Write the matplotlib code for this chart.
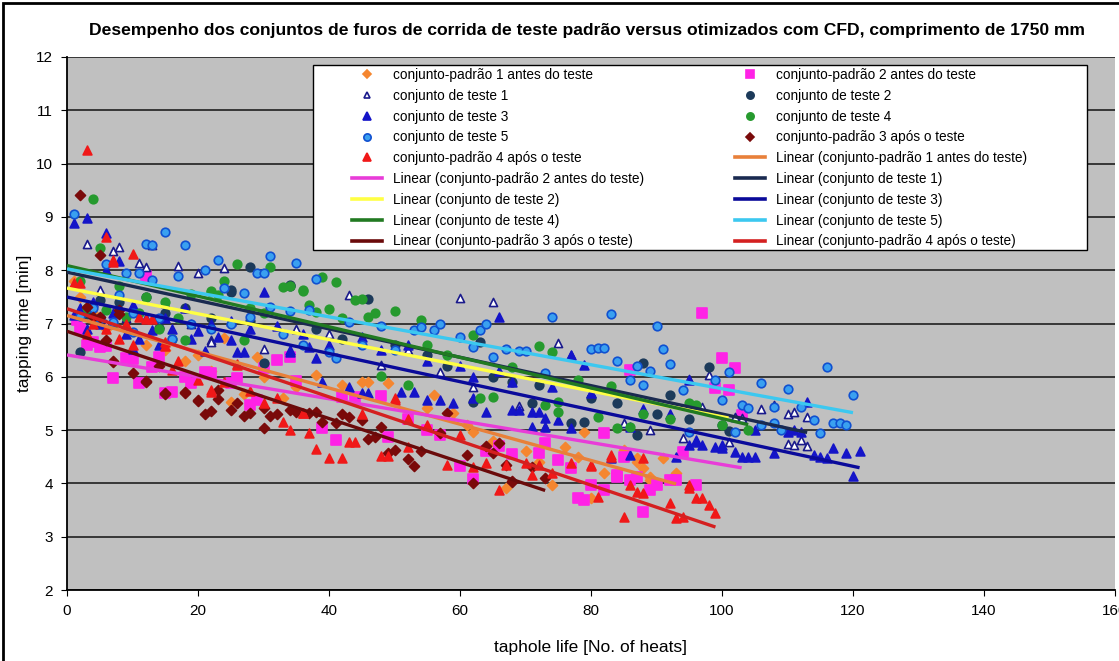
import numpy as np
import matplotlib
matplotlib.use('Agg')
import matplotlib.pyplot as plt
from matplotlib.lines import Line2D
from matplotlib.patches import Rectangle

plt.rcParams['font.family'] = ['Liberation Sans', 'DejaVu Sans']

# conjunto-padrao 1 antes do teste
p1_x = [1, 2, 4, 6, 9, 12, 15, 18, 20, 22, 24, 25, 27, 29, 30, 33, 35, 38, 42, 45, 46, 49,
        55, 56, 59, 61, 62, 65, 67, 70, 72, 74, 76, 78, 79, 80, 82, 85, 87, 87, 88, 89, 89, 91, 93]
p1_y = [7.8, 7.5, 7.2, 6.9, 6.9, 6.6, 6.5, 6.3, 6.4, 6.1, 6.73, 5.53, 5.68, 6.37, 6.0, 5.6, 5.8, 6.03, 5.85, 5.9, 5.9, 5.88,
        5.41, 5.66, 5.32, 5.1, 4.97, 4.8, 3.91, 4.6, 4.4, 3.97, 4.68, 4.5, 4.97, 3.73, 4.19, 4.63, 4.4, 4.48, 4.29, 4.12, 4.06, 4.48, 4.2]

# conjunto-padrao 2 antes do teste
p2_x = [1.5, 2, 3, 4, 5, 6, 7, 9, 10, 11, 12, 13, 14, 15, 16, 18, 19, 21, 22, 25, 26, 28, 29, 30, 32, 34, 35,
        39, 41, 42, 44, 48, 49, 52, 55, 57, 60, 62, 64, 66, 68, 72, 73, 75, 77, 78, 79, 80, 82, 82, 84, 84, 85,
        86, 86, 87, 88, 89, 90, 92, 93, 94, 96, 97, 99, 100, 101, 102, 103]
p2_y = [7.06, 6.9, 6.6, 6.65, 6.56, 6.58, 5.98, 6.35, 6.33, 5.88, 7.9, 6.18, 6.37, 5.7, 5.72, 6.0, 5.88, 6.09, 6.07, 5.88, 5.98, 5.47, 5.56, 6.17, 6.32, 6.37, 5.92,
        5.04, 4.81, 5.62, 5.62, 5.64, 4.87, 5.2, 5.0, 4.9, 4.33, 4.08, 4.6, 4.7, 4.55, 4.57, 4.76, 4.44, 4.29, 3.73, 3.69, 3.97, 3.88, 4.94, 4.12, 4.16, 4.5,
        6.13, 4.06, 4.12, 3.46, 3.88, 3.97, 4.06, 4.06, 4.59, 3.97, 7.2, 5.79, 6.35, 5.75, 6.16, 5.28]

# conjunto de teste 1
t1_x = [2, 3, 5, 6, 7, 8, 9, 11, 12, 13, 14, 15, 17, 19, 20, 22, 22, 24, 30, 35, 40, 43, 48, 52, 57, 60, 62, 65, 69, 73,
        75, 77, 80, 85, 89, 94, 95, 97, 98, 101, 102, 103, 106, 108, 110, 110, 111, 111, 112, 113, 113]
t1_y = [7.2, 8.49, 7.63, 7.0, 8.36, 8.43, 7.1, 8.13, 8.06, 8.47, 7.0, 7.38, 8.08, 7.0, 7.95, 6.69, 6.65, 8.04, 6.52, 6.9, 6.8, 7.53, 6.22, 6.5, 6.09, 7.47, 5.81, 7.4, 5.45, 5.06,
        6.63, 6.41, 5.7, 5.13, 5.0, 4.85, 5.96, 5.43, 6.03, 4.78, 5.25, 5.23, 5.4, 5.47, 5.3, 4.74, 5.34, 4.72, 4.81, 5.25, 4.7]

# conjunto de teste 2
t2_x = [2, 3, 5, 5, 8, 12, 14, 15, 18, 22, 25, 25, 28, 28, 30, 34, 34, 38, 42, 46, 50, 55, 58, 62, 63, 65, 68,
        71, 72, 77, 79, 80, 84, 87, 88, 90, 92, 95, 98, 100, 101]
t2_y = [6.47, 7.18, 7.1, 7.45, 7.4, 7.5, 6.92, 7.2, 7.3, 7.1, 7.63, 7.59, 8.06, 7.05, 6.26, 7.7, 7.72, 6.9, 6.7, 7.46, 6.6, 6.4, 6.2, 5.53, 6.65, 6.0, 5.9,
        5.51, 5.85, 5.13, 5.15, 5.6, 5.5, 4.91, 6.26, 5.3, 5.66, 5.2, 6.18, 5.1, 4.98]

# conjunto de teste 3
t3_x = [1, 1, 2, 3, 3, 4, 5, 6, 6, 7, 8, 9, 10, 10, 11, 12, 13, 14, 15, 16, 18, 19, 20, 21, 22, 23, 25, 25, 26, 27, 28, 30, 32, 34, 34,
        36, 37, 38, 39, 40, 43, 45, 45, 46, 48, 51, 52, 53, 55, 55, 57, 59, 60, 62, 62, 64, 66, 66, 68, 68, 69,
        71, 71, 72, 73, 73, 74, 75, 77, 77, 79, 80, 83, 86, 86, 88, 92, 93, 95, 95, 96, 96, 97, 99, 100, 100,
        102, 103, 104, 105, 105, 108, 110, 111, 112, 113, 114, 115, 116, 117, 119, 120, 121]
t3_y = [8.88, 7.16, 7.3, 8.97, 6.9, 7.4, 7.0, 8.7, 8.0, 7.2, 8.17, 6.8, 6.52, 7.35, 6.7, 7.1, 6.88, 6.6, 7.1, 6.9, 7.3, 6.7, 6.86, 6.48, 7.0, 6.75, 6.69, 7.05, 6.47, 6.47, 6.9, 7.59, 6.95, 6.47, 6.5,
        6.8, 6.56, 6.35, 5.9, 6.6, 5.81, 6.75, 5.7, 5.7, 6.5, 5.72, 6.6, 5.72, 5.56, 6.3, 5.56, 5.5, 6.2, 5.6, 6.0, 5.34, 7.12, 6.1, 5.38, 5.9, 5.38,
        5.34, 5.06, 5.34, 5.06, 5.22, 5.8, 5.19, 6.41, 5.04, 6.22, 5.7, 4.48, 5.06, 4.53, 5.4, 5.3, 4.5, 4.72, 5.94, 4.78, 4.81, 4.72, 4.68, 4.72, 4.66,
        4.59, 4.5, 4.5, 4.5, 5.0, 4.57, 4.97, 5.0, 4.97, 5.53, 4.53, 4.5, 4.48, 4.66, 4.57, 4.14, 4.61]

# conjunto de teste 4
t4_x = [2, 3, 4, 5, 6, 7, 8, 9, 11, 12, 14, 15, 16, 17, 18, 19, 22, 22, 23, 24, 26, 27, 28, 30, 31, 33, 34, 36, 36, 37, 38, 39,
        40, 41, 42, 44, 45, 46, 47, 48, 50, 52, 54, 55, 58, 62, 63, 65, 68, 72, 73, 74, 75, 75, 78, 81, 83, 84,
        86, 88, 92, 95, 96, 100, 104]
t4_y = [7.8, 7.3, 9.34, 8.41, 7.25, 7.0, 7.7, 7.12, 7.2, 7.5, 6.9, 7.4, 6.71, 7.1, 6.69, 7.55, 7.61, 7.6, 7.53, 7.8, 8.12, 6.69, 7.3, 7.2, 8.06, 7.69, 7.7, 7.63, 7.61, 7.35, 7.22, 7.87,
        7.27, 7.78, 7.1, 7.44, 7.46, 7.12, 7.2, 6.01, 7.23, 5.85, 7.07, 6.6, 6.4, 6.78, 5.6, 5.62, 6.18, 6.58, 5.47, 6.47, 5.53, 5.34, 5.94, 5.25, 5.83, 5.04,
        5.06, 5.3, 5.2, 5.51, 5.47, 5.1, 5.0]

# conjunto de teste 5
t5_x = [1, 2, 4, 5, 6, 7, 8, 9, 10, 10, 11, 12, 13, 13, 14, 15, 16, 17, 18, 19, 21, 22, 23, 24, 25, 27, 28, 29, 30, 31, 31, 33, 34, 35, 36, 37,
        38, 40, 41, 43, 45, 48, 50, 53, 54, 56, 57, 60, 62, 63, 64, 65, 67, 69, 70, 73, 74, 80, 81, 82, 83, 84, 86, 87,
        88, 89, 90, 91, 92, 94, 95, 99, 100, 101, 102, 103, 104, 106, 106, 108, 108, 109, 110, 112, 114, 115, 116,
        117, 118, 119, 120]
t5_y = [9.05, 7.15, 7.3, 7.1, 8.12, 7.03, 7.53, 7.95, 6.84, 7.2, 7.95, 8.5, 8.47, 7.82, 7.1, 8.72, 6.71, 7.9, 8.47, 7.0, 8.0, 6.9, 8.2, 7.66, 7.0, 7.57, 7.12, 7.95, 7.95, 8.27, 7.31, 6.8, 7.23, 8.14, 6.6, 7.25,
        7.83, 6.47, 6.35, 7.03, 6.6, 6.95, 6.5, 6.88, 6.93, 6.88, 6.99, 6.75, 6.56, 6.88, 6.99, 6.37, 6.52, 6.48, 6.48, 6.07, 7.12, 6.52, 6.54, 6.54, 7.18, 6.3, 5.94, 6.2,
        5.85, 6.1, 6.95, 6.52, 6.24, 5.75, 4.97, 5.94, 5.56, 6.09, 4.97, 5.47, 5.41, 5.88, 5.1, 5.13, 5.43, 5.0, 5.77, 5.43, 5.19, 4.95, 6.18,
        5.13, 5.13, 5.1, 5.66]

# conjunto-padrao 3 apos o teste
p3_x = [2, 3, 4, 5, 5, 6, 7, 7, 8, 8, 10, 12, 12, 14, 15, 15, 18, 18, 20, 20, 21, 22, 23, 23, 25, 26, 27, 28,
        30, 30, 31, 32, 34, 35, 37, 38, 39, 41, 42, 43, 45, 46, 47, 48, 49, 50, 52, 53, 54, 57, 58, 61, 62, 64, 65,
        66, 67, 68, 68, 71, 73]
p3_y = [9.41, 7.31, 7.12, 8.28, 7.12, 6.69, 6.3, 6.28, 7.18, 7.25, 6.07, 5.92, 5.9, 6.2, 5.68, 5.7, 5.7, 5.71, 5.55, 5.56, 5.3, 5.36, 5.58, 5.75, 5.38, 5.5, 5.26, 5.32,
        5.41, 5.04, 5.26, 5.3, 5.38, 5.34, 5.32, 5.34, 5.15, 5.13, 5.3, 5.25, 5.19, 4.83, 4.87, 5.06, 4.57, 4.63, 4.46, 4.33, 4.61, 4.95, 5.32, 4.53, 4.01, 4.7, 4.57,
        4.76, 4.35, 4.04, 4.03, 4.3, 4.1]

# conjunto-padrao 4 apos o teste
p4_x = [1, 2, 3, 3, 4, 6, 6, 7, 7, 8, 9, 10, 10, 11, 12, 13, 15, 15, 16, 17, 20, 22, 22, 24, 26, 26, 28, 30, 32, 33, 34, 36, 36, 37, 38,
        40, 42, 43, 44, 45, 48, 49, 50, 50, 52, 52, 55, 58, 60, 62, 64, 66, 67, 70, 71, 72, 74, 77, 80, 80, 81,
        83, 83, 85, 86, 87, 88, 88, 92, 93, 94, 95, 95, 96, 97, 98, 99]
p4_y = [7.76, 7.76, 10.25, 6.8, 7.0, 8.62, 6.9, 8.15, 8.19, 6.7, 7.0, 8.3, 6.6, 7.12, 7.08, 7.08, 6.65, 6.58, 6.13, 6.3, 5.94, 5.75, 5.71, 5.9, 6.24, 6.22, 5.73, 5.51, 5.6, 5.15, 5.0, 5.32, 5.32, 4.95, 4.64,
        4.47, 4.47, 4.78, 4.78, 5.3, 4.51, 4.51, 5.6, 5.56, 5.2, 4.68, 5.1, 4.35, 4.9, 4.31, 4.38, 3.88, 4.35, 4.38, 4.16, 4.35, 4.2, 4.38, 4.35, 4.33, 3.75,
        4.5, 4.53, 3.37, 3.97, 3.84, 3.82, 4.47, 3.63, 3.35, 3.37, 3.97, 3.91, 3.73, 3.73, 3.6, 3.44]

names = ['conjunto-padrão 1 antes do teste', 'conjunto-padrão 2 antes do teste',
         'conjunto de teste 1', 'conjunto de teste 2', 'conjunto de teste 3',
         'conjunto de teste 4', 'conjunto de teste 5',
         'conjunto-padrão 3 após o teste', 'conjunto-padrão 4 após o teste']
xs = [p1_x, p2_x, t1_x, t2_x, t3_x, t4_x, t5_x, p3_x, p4_x]
ys = [p1_y, p2_y, t1_y, t2_y, t3_y, t4_y, t5_y, p3_y, p4_y]

# marker, size, face, edge
styles = [
    ('D', 26, '#F5862F', '#F5862F'),
    ('s', 48, '#FF22E6', '#FF22E6'),
    ('^', 34, 'white', '#1A1A8C'),
    ('o', 38, '#1C3A5A', '#1C3A5A'),
    ('^', 40, '#1414C8', '#1414C8'),
    ('o', 38, '#269A2E', '#269A2E'),
    ('o', 38, '#3AA0F0', '#1050D0'),
    ('D', 26, '#7A0A0A', '#7A0A0A'),
    ('^', 40, '#F01818', '#F01818'),
]
line_colors = ['#E8803A', '#E83CD8', '#1A2A50', '#FFFF44', '#0A0A9A',
               '#217A21', '#3CC8F0', '#6A0A0A', '#D42020']

fig = plt.figure(figsize=(11.19, 6.61), dpi=100)
ax = fig.add_axes([67 / 1119, 1 - 590 / 661, 1048 / 1119, 533 / 661])
ax.set_facecolor('#C0C0C0')

for i in range(len(names)):
    m, s, fc, ec = styles[i]
    ax.scatter(xs[i], ys[i], marker=m, s=s, c=fc, edgecolors=ec, linewidths=1.2, zorder=3)

# linear trend lines fitted to each series
for i in range(len(names)):
    k, b = np.polyfit(xs[i], ys[i], 1)
    lx = np.array([0, max(xs[i])])
    ax.plot(lx, k * lx + b, color=line_colors[i], lw=2.4, zorder=4, solid_capstyle='butt')

ax.set_xlim(0, 160)
ax.set_ylim(2, 12)
ax.set_xticks(range(0, 161, 20))
ax.set_yticks(range(2, 13))
ax.yaxis.grid(True, color='#202020', lw=1.2)
ax.set_axisbelow(True)
for sp in ['top', 'right']:
    ax.spines[sp].set_visible(False)
ax.spines['left'].set_linewidth(1.3)
ax.spines['bottom'].set_linewidth(1.3)
ax.tick_params(direction='out', length=4, labelsize=11, pad=6)
ax.set_ylabel('tapping time [min]', fontsize=12.5, labelpad=3)
ax.set_xlabel('taphole life [No. of heats]', fontsize=12.5, labelpad=16)

fig.text(587 / 1119, 1 - 30 / 661,
         'Desempenho dos conjuntos de furos de corrida de teste padrão versus otimizados com CFD, comprimento de 1750 mm',
         ha='center', va='center', fontsize=12.6, fontweight='bold')

# figure frame (left and top edges visible)
fig.patches.append(Rectangle((3 / 1119, -0.05), 1.2, 1 - 3 / 661 + 0.05, transform=fig.transFigure,
                             fill=False, edgecolor='black', lw=2))

# legend box
fig.patches.append(Rectangle((313 / 1119, 1 - 250 / 661), 774 / 1119, 185 / 661, transform=fig.transFigure,
                             facecolor='white', edgecolor='black', lw=1.0, zorder=5))

handles = []
labels = []
for i in range(len(names)):
    m, s, fc, ec = styles[i]
    handles.append(Line2D([], [], marker=m, ls='none', markersize=np.sqrt(s) * 0.85,
                          markerfacecolor=fc, markeredgecolor=ec, markeredgewidth=1.2))
    labels.append(names[i])
for i in range(len(names)):
    handles.append(Line2D([], [], color=line_colors[i], lw=2.6))
    labels.append('Linear (' + names[i] + ')')
order = list(range(0, 18, 2)) + list(range(1, 18, 2))
leg = fig.legend([handles[j] for j in order], [labels[j] for j in order], ncol=2,
                 loc='upper left', bbox_to_anchor=(352 / 1119, 1 - 68 / 661),
                 fontsize=9.8, frameon=False, labelspacing=0.5, handlelength=2.2,
                 columnspacing=6.7, borderpad=0, borderaxespad=0, handletextpad=0.8)
leg.set_zorder(6)

fig.savefig('out.png', dpi=100)
